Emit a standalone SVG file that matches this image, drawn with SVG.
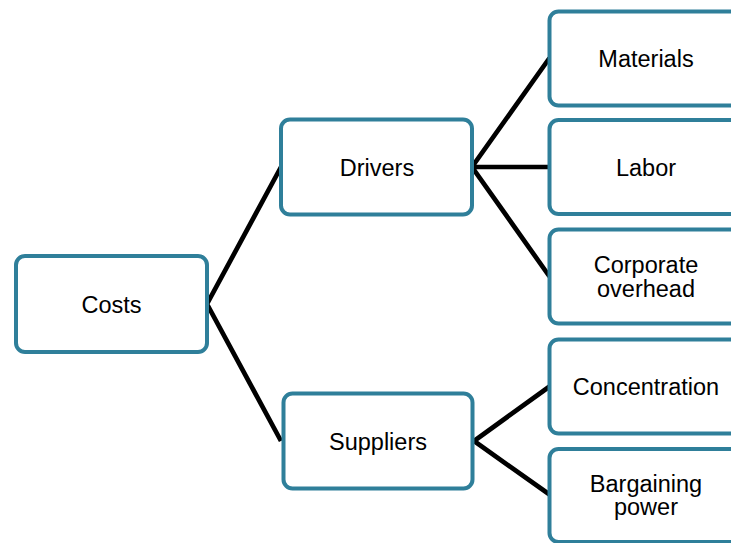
<svg xmlns="http://www.w3.org/2000/svg" width="731" height="543" viewBox="0 0 731 543">
<style>
.box{fill:#ffffff;stroke:#2f7f9a;stroke-width:4}
.lbl{font-family:"Liberation Sans",Arial,sans-serif;font-size:23.5px;fill:#000000;text-anchor:middle}
.conn{stroke:#000000;stroke-width:4.7;fill:none}
</style>
<rect width="731" height="543" fill="#ffffff"/>
<g id="connectors">
<path class="conn" d="M281,167 L207,304 L281,441"/>
<path class="conn" d="M549.5,58 L472,167 L549.5,276.5 M472,167 L549.5,167"/>
<path class="conn" d="M549.5,386.5 L474,441 L549.5,494.5"/>
</g>
<g id="costs"><rect class="box" x="16" y="256" width="191" height="96" rx="9"/><text class="lbl" x="111.5" y="312.5">Costs</text></g>
<g id="drivers"><rect class="box" x="281" y="119.5" width="191" height="95" rx="9"/><text class="lbl" x="377" y="175.5">Drivers</text></g>
<g id="suppliers"><rect class="box" x="283.5" y="393.5" width="189" height="95" rx="9"/><text class="lbl" x="378" y="449.5">Suppliers</text></g>
<g id="materials"><rect class="box" x="549.5" y="11.5" width="193" height="94" rx="9"/><text class="lbl" x="646" y="66.5">Materials</text></g>
<g id="labor"><rect class="box" x="549.5" y="120" width="193" height="94" rx="9"/><text class="lbl" x="646" y="175.5">Labor</text></g>
<g id="corporate-overhead"><rect class="box" x="549.5" y="229.5" width="193" height="94" rx="9"/><text class="lbl" x="646" y="273">Corporate</text><text class="lbl" x="646" y="296.5">overhead</text></g>
<g id="concentration"><rect class="box" x="549.5" y="339.5" width="193" height="94" rx="9"/><text class="lbl" x="646" y="395">Concentration</text></g>
<g id="bargaining-power"><rect class="box" x="549.5" y="449" width="193" height="93" rx="9"/><text class="lbl" x="646" y="491.5">Bargaining</text><text class="lbl" x="646" y="515">power</text></g>
</svg>
